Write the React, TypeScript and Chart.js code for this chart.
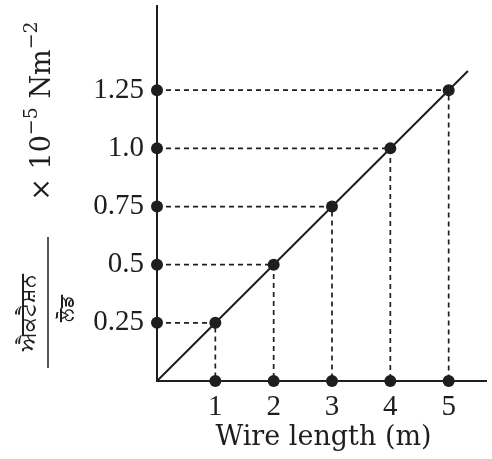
import React, { useEffect, useRef } from "react";
import { Chart, registerables } from "chart.js";

Chart.register(...registerables);

// ---- data ----
const lengths = [1, 2, 3, 4, 5];
const stressValues = [0.25, 0.5, 0.75, 1.0, 1.25];
const yTickValues = [0.25, 0.5, 0.75, 1.0, 1.25];
const yTickLabels = ["0.25", "0.5", "0.75", "1.0", "1.25"];
const xTickValues = [1, 2, 3, 4, 5];
const xTickLabels = ["1", "2", "3", "4", "5"];
const fitLineX = [0, 5.33];
const fitLineY = [0, 1.3325];
const xTitle = "Wire length (m)";
const yNumerator = "ਐਕਟੈਸ਼ਨ";
const yDenominator = "ਲੋਡ";
const yUnitMain1 = "× 10";
const yUnitSup1 = "−5";
const yUnitMain2 = " Nm";
const yUnitSup2 = "−2";

const INK = "#1e1e1e";
const TICK_FONT = "'Liberation Serif', 'DejaVu Serif', serif";
const TITLE_FONT = "'DejaVu Serif', 'Liberation Serif', serif";

const titlePlugin = {
  id: "customTitles",
  afterDraw(chart: any) {
    const ctx = chart.ctx as CanvasRenderingContext2D;
    const area = chart.chartArea;
    ctx.save();
    ctx.fillStyle = INK;
    ctx.strokeStyle = INK;

    // x title
    ctx.font = `27px ${TITLE_FONT}`;
    ctx.textAlign = "center";
    ctx.textBaseline = "alphabetic";
    ctx.fillText(xTitle, (area.left + area.right) / 2 + 2, 445);

    // y unit label (rotated)
    ctx.save();
    ctx.translate(50, 111);
    ctx.rotate(-Math.PI / 2);
    const mainFont = `27px ${TITLE_FONT}`;
    const supFont = `19px ${TITLE_FONT}`;
    ctx.font = mainFont;
    const w1 = ctx.measureText(yUnitMain1).width;
    const w3 = ctx.measureText(yUnitMain2).width;
    ctx.font = supFont;
    const w2 = ctx.measureText(yUnitSup1).width;
    const w4 = ctx.measureText(yUnitSup2).width;
    const total = w1 + w2 + w3 + w4;
    let cx = -total / 2;
    ctx.textAlign = "left";
    ctx.font = mainFont;
    ctx.fillText(yUnitMain1, cx, 0);
    cx += w1;
    ctx.font = supFont;
    ctx.fillText(yUnitSup1, cx, -13);
    cx += w2;
    ctx.font = mainFont;
    ctx.fillText(yUnitMain2, cx, 0);
    cx += w3;
    ctx.font = supFont;
    ctx.fillText(yUnitSup2, cx, -13);
    ctx.restore();

    // fraction bar
    ctx.lineWidth = 1.5;
    ctx.beginPath();
    ctx.moveTo(48, 237);
    ctx.lineTo(48, 368);
    ctx.stroke();

    // numerator
    ctx.save();
    ctx.translate(35, 312);
    ctx.rotate(-Math.PI / 2);
    ctx.textAlign = "center";
    ctx.font = `22px 'Noto Sans', 'DejaVu Sans', sans-serif`;
    ctx.fillText(yNumerator, 0, 0);
    ctx.restore();

    // denominator
    ctx.save();
    ctx.translate(73, 308);
    ctx.rotate(-Math.PI / 2);
    ctx.textAlign = "center";
    ctx.font = `20px 'Noto Sans', 'DejaVu Sans', sans-serif`;
    ctx.fillText(yDenominator, 0, 0);
    ctx.restore();

    ctx.restore();
  },
};

export default function App() {
  const canvasRef = useRef<HTMLCanvasElement | null>(null);

  useEffect(() => {
    const canvas = canvasRef.current;
    if (!canvas) return;

    const guideSets = lengths.map((l, i) => ({
      type: "line" as const,
      data: [
        { x: 0, y: stressValues[i] },
        { x: l, y: stressValues[i] },
        { x: l, y: 0 },
      ],
      borderColor: INK,
      borderWidth: 1.7,
      borderDash: [5, 4],
      pointRadius: 0,
      fill: false,
      tension: 0,
      clip: false as any,
    }));

    const pointData = [
      ...lengths.map((l, i) => ({ x: l, y: stressValues[i] })),
      ...stressValues.map((v) => ({ x: 0, y: v })),
      ...lengths.map((l) => ({ x: l, y: 0 })),
    ];

    const chart = new Chart(canvas, {
      type: "scatter",
      data: {
        datasets: [
          ...guideSets,
          {
            type: "line" as const,
            data: fitLineX.map((x, i) => ({ x, y: fitLineY[i] })),
            borderColor: INK,
            borderWidth: 2,
            pointRadius: 0,
            fill: false,
            clip: false as any,
          },
          {
            type: "scatter" as const,
            data: pointData,
            backgroundColor: INK,
            borderColor: INK,
            borderWidth: 0,
            pointRadius: 6,
            clip: false as any,
          },
        ] as any,
      },
      plugins: [titlePlugin],
      options: {
        responsive: false,
        animation: false,
        devicePixelRatio: 1,
        layout: { padding: { left: 0, top: 5, right: 2, bottom: 0 } },
        plugins: {
          legend: { display: false },
          tooltip: { enabled: false },
          title: { display: false },
        },
        scales: {
          x: {
            type: "linear",
            min: 0,
            max: 5.64,
            grid: { display: false, drawTicks: false },
            border: { display: true, color: INK, width: 2 },
            afterBuildTicks: (scale: any) => {
              scale.ticks = xTickValues.map((v) => ({ value: v }));
            },
            afterFit: (scale: any) => {
              scale.height = 78;
              scale.paddingLeft = 0;
              scale.paddingRight = 0;
            },
            ticks: {
              color: INK,
              font: { family: TICK_FONT, size: 29 },
              padding: 9,
              maxRotation: 0,
              autoSkip: false,
              callback: (value: any) => {
                const idx = xTickValues.indexOf(Number(value));
                return idx >= 0 ? xTickLabels[idx] : "";
              },
            },
          },
          y: {
            type: "linear",
            min: 0,
            max: 1.612,
            grid: { display: false, drawTicks: false },
            border: { display: true, color: INK, width: 2 },
            afterBuildTicks: (scale: any) => {
              scale.ticks = yTickValues.map((v) => ({ value: v }));
            },
            afterFit: (scale: any) => {
              scale.width = 157;
              scale.paddingTop = 0;
              scale.paddingBottom = 0;
            },
            ticks: {
              color: INK,
              font: { family: TICK_FONT, size: 29 },
              padding: 13,
              autoSkip: false,
              callback: (value: any) => {
                const idx = yTickValues.indexOf(Number(value));
                return idx >= 0 ? yTickLabels[idx] : "";
              },
            },
          },
        },
      } as any,
    });

    return () => chart.destroy();
  }, []);

  return (
    <div
      style={{
        position: "fixed",
        left: 0,
        top: 0,
        width: 492,
        height: 459,
        background: "#ffffff",
      }}
    >
      <canvas
        ref={canvasRef}
        width={492}
        height={459}
        style={{ width: 492, height: 459, display: "block" }}
      />
    </div>
  );
}
